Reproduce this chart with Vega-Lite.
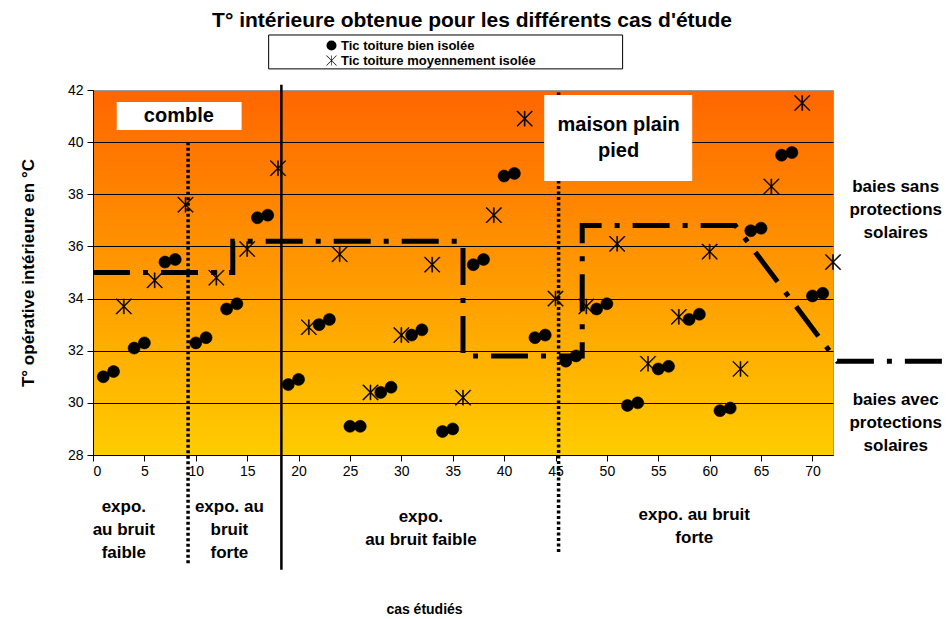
{
  "$schema": "https://vega.github.io/schema/vega-lite/v6.json",
  "autosize": {"type": "none"},
  "width": 740,
  "height": 365,
  "padding": {"left": 93, "top": 90, "right": 116, "bottom": 164},
  "background": "white",
  "title": {"text": "T° intérieure obtenue pour les différents cas d'étude", "fontSize": 21, "font": "Liberation Sans", "fontWeight": "bold", "color": "black", "anchor": "middle", "dx": 9, "offset": 3},
  "config": {
    "font": "Liberation Sans",
    "view": {"stroke": "#999999", "strokeWidth": 1, "fill": {"gradient": "linear", "x1": 0, "y1": 0, "x2": 0, "y2": 1, "stops": [{"offset": 0, "color": "#FF6600"}, {"offset": 1, "color": "#FFCC00"}]}},
    "axis": {"labelFont": "Liberation Sans", "labelFontSize": 14, "labelColor": "black", "titleFont": "Liberation Sans", "titleFontWeight": "bold", "titleColor": "black", "domainColor": "black", "tickColor": "black", "tickSize": 6}
  },
  "datasets": {
    "pts": [
      {"x": 1, "t": 31.0, "serie": "Tic toiture bien isolée"}, {"x": 2, "t": 31.2, "serie": "Tic toiture bien isolée"},
      {"x": 4, "t": 32.1, "serie": "Tic toiture bien isolée"}, {"x": 5, "t": 32.3, "serie": "Tic toiture bien isolée"},
      {"x": 7, "t": 35.4, "serie": "Tic toiture bien isolée"}, {"x": 8, "t": 35.5, "serie": "Tic toiture bien isolée"},
      {"x": 10, "t": 32.3, "serie": "Tic toiture bien isolée"}, {"x": 11, "t": 32.5, "serie": "Tic toiture bien isolée"},
      {"x": 13, "t": 33.6, "serie": "Tic toiture bien isolée"}, {"x": 14, "t": 33.8, "serie": "Tic toiture bien isolée"},
      {"x": 16, "t": 37.1, "serie": "Tic toiture bien isolée"}, {"x": 17, "t": 37.2, "serie": "Tic toiture bien isolée"},
      {"x": 19, "t": 30.7, "serie": "Tic toiture bien isolée"}, {"x": 20, "t": 30.9, "serie": "Tic toiture bien isolée"},
      {"x": 22, "t": 33.0, "serie": "Tic toiture bien isolée"}, {"x": 23, "t": 33.2, "serie": "Tic toiture bien isolée"},
      {"x": 25, "t": 29.1, "serie": "Tic toiture bien isolée"}, {"x": 26, "t": 29.1, "serie": "Tic toiture bien isolée"},
      {"x": 28, "t": 30.4, "serie": "Tic toiture bien isolée"}, {"x": 29, "t": 30.6, "serie": "Tic toiture bien isolée"},
      {"x": 31, "t": 32.6, "serie": "Tic toiture bien isolée"}, {"x": 32, "t": 32.8, "serie": "Tic toiture bien isolée"},
      {"x": 34, "t": 28.9, "serie": "Tic toiture bien isolée"}, {"x": 35, "t": 29.0, "serie": "Tic toiture bien isolée"},
      {"x": 37, "t": 35.3, "serie": "Tic toiture bien isolée"}, {"x": 38, "t": 35.5, "serie": "Tic toiture bien isolée"},
      {"x": 40, "t": 38.7, "serie": "Tic toiture bien isolée"}, {"x": 41, "t": 38.8, "serie": "Tic toiture bien isolée"},
      {"x": 43, "t": 32.5, "serie": "Tic toiture bien isolée"}, {"x": 44, "t": 32.6, "serie": "Tic toiture bien isolée"},
      {"x": 46, "t": 31.6, "serie": "Tic toiture bien isolée"}, {"x": 47, "t": 31.8, "serie": "Tic toiture bien isolée"},
      {"x": 49, "t": 33.6, "serie": "Tic toiture bien isolée"}, {"x": 50, "t": 33.8, "serie": "Tic toiture bien isolée"},
      {"x": 52, "t": 29.9, "serie": "Tic toiture bien isolée"}, {"x": 53, "t": 30.0, "serie": "Tic toiture bien isolée"},
      {"x": 55, "t": 31.3, "serie": "Tic toiture bien isolée"}, {"x": 56, "t": 31.4, "serie": "Tic toiture bien isolée"},
      {"x": 58, "t": 33.2, "serie": "Tic toiture bien isolée"}, {"x": 59, "t": 33.4, "serie": "Tic toiture bien isolée"},
      {"x": 61, "t": 29.7, "serie": "Tic toiture bien isolée"}, {"x": 62, "t": 29.8, "serie": "Tic toiture bien isolée"},
      {"x": 64, "t": 36.6, "serie": "Tic toiture bien isolée"}, {"x": 65, "t": 36.7, "serie": "Tic toiture bien isolée"},
      {"x": 67, "t": 39.5, "serie": "Tic toiture bien isolée"}, {"x": 68, "t": 39.6, "serie": "Tic toiture bien isolée"},
      {"x": 70, "t": 34.1, "serie": "Tic toiture bien isolée"}, {"x": 71, "t": 34.2, "serie": "Tic toiture bien isolée"},
      {"x": 3, "t": 33.7, "serie": "Tic toiture moyennement isolée"}, {"x": 6, "t": 34.7, "serie": "Tic toiture moyennement isolée"},
      {"x": 9, "t": 37.6, "serie": "Tic toiture moyennement isolée"}, {"x": 12, "t": 34.8, "serie": "Tic toiture moyennement isolée"},
      {"x": 15, "t": 35.9, "serie": "Tic toiture moyennement isolée"}, {"x": 18, "t": 39.0, "serie": "Tic toiture moyennement isolée"},
      {"x": 21, "t": 32.9, "serie": "Tic toiture moyennement isolée"}, {"x": 24, "t": 35.7, "serie": "Tic toiture moyennement isolée"},
      {"x": 27, "t": 30.4, "serie": "Tic toiture moyennement isolée"}, {"x": 30, "t": 32.6, "serie": "Tic toiture moyennement isolée"},
      {"x": 33, "t": 35.3, "serie": "Tic toiture moyennement isolée"}, {"x": 36, "t": 30.2, "serie": "Tic toiture moyennement isolée"},
      {"x": 39, "t": 37.2, "serie": "Tic toiture moyennement isolée"}, {"x": 42, "t": 40.9, "serie": "Tic toiture moyennement isolée"},
      {"x": 45, "t": 34.0, "serie": "Tic toiture moyennement isolée"}, {"x": 48, "t": 33.7, "serie": "Tic toiture moyennement isolée"},
      {"x": 51, "t": 36.1, "serie": "Tic toiture moyennement isolée"}, {"x": 54, "t": 31.5, "serie": "Tic toiture moyennement isolée"},
      {"x": 57, "t": 33.3, "serie": "Tic toiture moyennement isolée"}, {"x": 60, "t": 35.8, "serie": "Tic toiture moyennement isolée"},
      {"x": 63, "t": 31.3, "serie": "Tic toiture moyennement isolée"}, {"x": 66, "t": 38.3, "serie": "Tic toiture moyennement isolée"},
      {"x": 69, "t": 41.5, "serie": "Tic toiture moyennement isolée"}, {"x": 72, "t": 35.4, "serie": "Tic toiture moyennement isolée"}
    ],
    "steps": [
      {"o": 1, "x": 0, "y": 35.0}, {"o": 2, "x": 13.6, "y": 35.0}, {"o": 3, "x": 13.6, "y": 36.2},
      {"o": 4, "x": 36.0, "y": 36.2}, {"o": 5, "x": 36.0, "y": 31.8}, {"o": 6, "x": 47.6, "y": 31.8},
      {"o": 7, "x": 47.6, "y": 36.8}, {"o": 8, "x": 62.5, "y": 36.8}, {"o": 9, "x": 72.4, "y": 31.6},
      {"o": 10, "x": 82.7, "y": 31.6}
    ],
    "dotted": [{"x": 9.25, "y": 40.0, "y2": 23.8}, {"x": 45.3, "y": 41.9, "y2": 24.2}],
    "solid": [{"x": 18.33, "y": 42.2, "y2": 23.6}],
    "boxes": [
      {"x": 2.31, "x2": 14.46, "y": 41.54, "y2": 40.47},
      {"x": 43.9, "x2": 58.3, "y": 41.81, "y2": 38.51}
    ],
    "legendbox": [{"x": 17.09, "x2": 51.53, "y": 44.11, "y2": 42.81}],
    "bigtext": [
      {"x": 8.35, "y": 41.0, "label": "comble"},
      {"x": 51.14, "y": 40.66, "label": "maison plain\npied"}
    ],
    "notes": [
      {"x": 78.1, "y": 38.28, "label": "baies sans\nprotections\nsolaires"},
      {"x": 78.1, "y": 30.11, "label": "baies avec\nprotections\nsolaires"},
      {"x": 3.0, "y": 26.01, "label": "expo.\nau bruit\nfaible"},
      {"x": 13.27, "y": 26.01, "label": "expo. au\nbruit\nforte"},
      {"x": 31.9, "y": 25.62, "label": "expo.\nau bruit faible"},
      {"x": 58.5, "y": 25.70, "label": "expo. au bruit\nforte"}
    ]
  },
  "layer": [
    {
      "data": {"name": "dotted"},
      "mark": {"type": "rule", "strokeDash": [3, 2.5], "strokeWidth": 3.5, "color": "black"},
      "encoding": {
        "x": {"field": "x", "type": "quantitative", "scale": {"domain": [0, 72], "nice": false, "zero": false},
          "axis": {"values": [0, 5, 10, 15, 20, 25, 30, 35, 40, 45, 50, 55, 60, 65, 70], "grid": false, "title": "cas étudiés", "titleFontSize": 14, "titlePadding": 124, "titleX": 331, "labelPadding": 3}},
        "y": {"field": "y", "type": "quantitative", "scale": {"domain": [28, 42], "nice": false, "zero": false},
          "axis": {"values": [28, 30, 32, 34, 36, 38, 40, 42], "grid": true, "gridColor": {"condition": {"test": "datum.value === 42", "value": "#999999"}, "value": "black"}, "gridWidth": 1, "title": "T° opérative intérieure en °C", "titleFontSize": 17, "titlePadding": 30, "labelPadding": 4}},
        "y2": {"field": "y2"}
      }
    },
    {
      "data": {"name": "solid"},
      "mark": {"type": "rule", "strokeWidth": 2.5, "color": "black"},
      "encoding": {
        "x": {"field": "x", "type": "quantitative"},
        "y": {"field": "y", "type": "quantitative"},
        "y2": {"field": "y2"}
      }
    },
    {
      "data": {"name": "steps"},
      "mark": {"type": "line", "strokeDash": [37, 13, 5, 13], "strokeWidth": 5, "color": "black", "strokeCap": "butt"},
      "encoding": {
        "x": {"field": "x", "type": "quantitative"},
        "y": {"field": "y", "type": "quantitative"},
        "order": {"field": "o", "type": "quantitative"}
      }
    },
    {
      "data": {"name": "boxes"},
      "mark": {"type": "rect", "fill": "white", "stroke": null},
      "encoding": {
        "x": {"field": "x", "type": "quantitative"},
        "x2": {"field": "x2"},
        "y": {"field": "y", "type": "quantitative"},
        "y2": {"field": "y2"}
      }
    },
    {
      "data": {"name": "legendbox"},
      "mark": {"type": "rect", "fill": "white", "stroke": "black", "strokeWidth": 1},
      "encoding": {
        "x": {"field": "x", "type": "quantitative"},
        "x2": {"field": "x2"},
        "y": {"field": "y", "type": "quantitative"},
        "y2": {"field": "y2"}
      }
    },
    {
      "data": {"name": "bigtext"},
      "mark": {"type": "text", "fontSize": 20, "fontWeight": "bold", "font": "Liberation Sans", "lineBreak": "\n", "lineHeight": 26, "align": "center", "baseline": "middle", "color": "black"},
      "encoding": {
        "x": {"field": "x", "type": "quantitative"},
        "y": {"field": "y", "type": "quantitative"},
        "text": {"field": "label"}
      }
    },
    {
      "data": {"name": "notes"},
      "mark": {"type": "text", "fontSize": 17, "fontWeight": "bold", "font": "Liberation Sans", "lineBreak": "\n", "lineHeight": 23, "align": "center", "baseline": "middle", "color": "black"},
      "encoding": {
        "x": {"field": "x", "type": "quantitative"},
        "y": {"field": "y", "type": "quantitative"},
        "text": {"field": "label"}
      }
    },
    {
      "data": {"name": "pts"},
      "mark": {"type": "point", "filled": true, "fill": "black", "stroke": "black", "strokeWidth": 0.6, "opacity": 1},
      "encoding": {
        "x": {"field": "x", "type": "quantitative"},
        "y": {"field": "t", "type": "quantitative"},
        "size": {"condition": {"test": "datum.serie === 'Tic toiture bien isolée'", "value": 144}, "value": 225},
        "shape": {"field": "serie", "type": "nominal",
          "scale": {"domain": ["Tic toiture bien isolée", "Tic toiture moyennement isolée"], "range": ["circle", "M-0.06,-1L0.06,-1L0.06,1L-0.06,1ZM-0.958,-1.042L1.042,0.958L0.958,1.042L-1.042,-0.958ZM-1.042,0.958L0.958,-1.042L1.042,-0.958L-0.958,1.042Z"]},
          "legend": {"title": null, "orient": "none", "legendX": 232, "legendY": -51, "padding": 0, "labelFont": "Liberation Sans", "labelFontSize": 13, "labelFontWeight": "bold", "labelColor": "black", "labelOffset": 3, "labelLimit": 400, "rowPadding": 1, "symbolSize": 100,
            "symbolFillColor": "black", "symbolStrokeColor": "black", "symbolStrokeWidth": 0.6, "symbolOpacity": 1,
            "encode": {"symbols": {"update": {"fill": {"value": "black"}, "stroke": {"value": "black"}, "strokeWidth": {"value": 0.6}, "opacity": {"value": 1}, "size": {"value": 100}}}}}}
      }
    }
  ]
}
